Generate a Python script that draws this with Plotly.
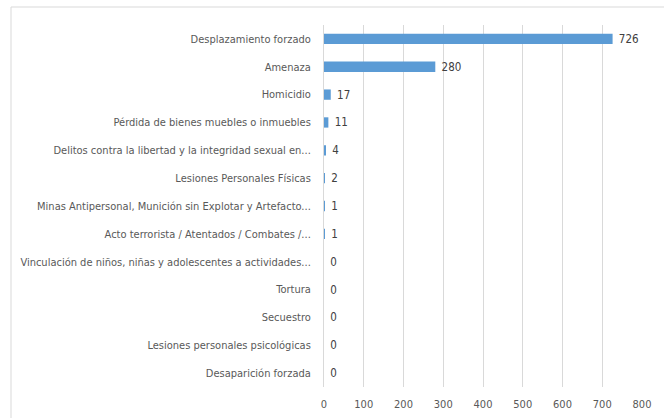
import plotly.graph_objects as go

categories = [
    "Desplazamiento forzado",
    "Amenaza",
    "Homicidio",
    "Pérdida de bienes muebles o inmuebles",
    "Delitos contra la libertad y la integridad sexual en...",
    "Lesiones Personales Físicas",
    "Minas Antipersonal, Munición sin Explotar y Artefacto...",
    "Acto terrorista / Atentados / Combates /...",
    "Vinculación de niños, niñas y adolescentes a actividades...",
    "Tortura",
    "Secuestro",
    "Lesiones personales psicológicas",
    "Desaparición forzada",
]
values = [726, 280, 17, 11, 4, 2, 1, 1, 0, 0, 0, 0, 0]
x_ticks = [0, 100, 200, 300, 400, 500, 600, 700, 800]

FONT = "DejaVu Sans Condensed, Liberation Sans, sans-serif"
GREY = "#595959"

fig = go.Figure(
    go.Bar(
        y=categories,
        x=values,
        orientation="h",
        marker=dict(color="#5B9BD5", line=dict(width=0)),
        text=values,
        texttemplate=" %{x}",
        textposition="outside",
        constraintext="none",
        cliponaxis=False,
        textfont=dict(family=FONT, size=11.5, color="#404040"),
    )
)

fig.update_layout(
    width=664,
    height=418,
    margin=dict(l=324, r=22, t=25, b=31, autoexpand=False),
    paper_bgcolor="white",
    plot_bgcolor="white",
    bargap=0.63,
    showlegend=False,
    font=dict(family=FONT, size=11, color=GREY),
    xaxis=dict(
        range=[0, 800],
        tickvals=x_ticks,
        showgrid=True,
        gridcolor="#D9D9D9",
        gridwidth=1,
        zeroline=False,
        showline=False,
        ticks="",
        automargin=False,
        ticklabelstandoff=9,
        tickfont=dict(family=FONT, size=11, color=GREY),
    ),
    yaxis=dict(
        autorange="reversed",
        showline=True,
        linecolor="#D9D9D9",
        linewidth=1,
        ticks="",
        automargin=False,
        ticklabelstandoff=10,
        tickfont=dict(family=FONT, size=11, color=GREY),
    ),
    shapes=[
        dict(
            type="rect",
            xref="paper",
            yref="paper",
            x0=(11 - 324) / 318,
            x1=1.5,
            y0=-0.5,
            y1=1 + (25 - 7) / 362,
            line=dict(color="#D9D9D9", width=1),
            fillcolor="rgba(0,0,0,0)",
            layer="below",
        )
    ],
)

fig.write_html(
    "out.html",
    config={"displayModeBar": False},
    post_script="document.body.style.margin='0';document.body.style.overflow='hidden';",
)
